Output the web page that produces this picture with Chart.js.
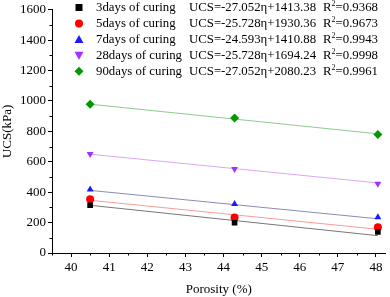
<!DOCTYPE html>
<html>
<head>
<meta charset="utf-8">
<script src="https://cdn.jsdelivr.net/npm/chart.js@4.4.0/dist/chart.umd.min.js"></script>
<style>
  body { margin: 0; background: #fff; }
  #wrap { width: 390px; height: 297px; }
</style>
</head>
<body>
<div id="wrap"><canvas id="ucs_chart"></canvas></div>
<script>
// DATA
const porosity = [40.5, 44.29, 48.05];
const ucs_3d = [314, 199, 138];
const ucs_5d = [353, 234, 169];
const ucs_7d = [418, 322, 236];
const ucs_28d = [652, 552, 456];
const ucs_90d = [979, 888, 780];

// fitted line end points
const fit_x = [40.5, 48.05];
const fit_3d = [314, 114];
const fit_5d = [347, 156];
const fit_7d = [412, 225];
const fit_28d = [650, 461];
const fit_90d = [979, 784];

const series_names = ["3days of curing", "5days of curing", "7days of curing", "28days of curing", "90days of curing"];
const equations = ["UCS=-27.052\u03b7+1413.38", "UCS=-25.728\u03b7+1930.36", "UCS=-24.593\u03b7+1410.88", "UCS=-25.728\u03b7+1694.24", "UCS=-27.052\u03b7+2080.23"];
const r_squared = ["0.9368", "0.9673", "0.9943", "0.9998", "0.9961"];

const x_ticks = [40, 41, 42, 43, 44, 45, 46, 47, 48];
const y_ticks = [0, 200, 400, 600, 800, 1000, 1200, 1400, 1600];

const marker_colors = ["#000000", "#ff0000", "#1a1aff", "#a033ff", "#009900"];
const line_colors = ["#777777", "#ff9a9a", "#8a8ab8", "#dda6f5", "#8fca8f"];
const marker_styles = ["rect", "circle", "triangle", "triangle", "rectRot"];
const marker_rot = [0, 0, 0, 180, 0];

const serif = "'Liberation Serif', 'Times New Roman', serif";

function toPoints(xs, ys) {
  return xs.map((x, i) => ({ x: x, y: ys[i] }));
}

const point_sets = [ucs_3d, ucs_5d, ucs_7d, ucs_28d, ucs_90d];
const fit_sets = [fit_3d, fit_5d, fit_7d, fit_28d, fit_90d];

let datasets = [];
fit_sets.forEach((ys, i) => {
  datasets.push({
    data: toPoints(fit_x, ys),
    showLine: true,
    borderColor: line_colors[i],
    borderWidth: 1,
    pointRadius: 0,
    order: 2,
  });
});
point_sets.forEach((ys, i) => {
  datasets.push({
    data: toPoints(porosity, ys),
    showLine: false,
    pointStyle: marker_styles[i],
    rotation: marker_rot[i],
    pointRadius: marker_styles[i] == "rectRot" ? 4.5 : 4,
    backgroundColor: marker_colors[i],
    borderColor: marker_colors[i],
    borderWidth: 0,
    order: 1,
  });
});

// MINOR TICKS + LEGEND
const extras = {
  id: "extras",
  afterDraw(chart) {
    const c = chart.ctx;
    const xs = chart.scales.x;
    const ys = chart.scales.y;
    c.save();
    c.strokeStyle = "#000";
    c.lineWidth = 1;
    c.beginPath();
    for (let v = 39.5; v <= 48.2; v += 1) {
      const px = Math.round(xs.getPixelForValue(v)) + 0.5;
      c.moveTo(px, xs.top);
      c.lineTo(px, xs.top + 2.5);
    }
    for (let v = 100; v < 1600; v += 200) {
      const py = Math.round(ys.getPixelForValue(v)) + 0.5;
      c.moveTo(ys.right, py);
      c.lineTo(ys.right - 2.5, py);
    }
    c.stroke();

    // legend
    const row_y = [7.5, 23.5, 39.5, 55.3, 71.2];
    c.textBaseline = "middle";
    c.textAlign = "left";
    for (let i = 0; i < 5; i++) {
      const y = row_y[i];
      const mx = 79;
      c.fillStyle = marker_colors[i];
      c.beginPath();
      if (marker_styles[i] == "rect") {
        c.rect(mx - 3.5, y - 3.5, 7, 7);
      } else if (marker_styles[i] == "circle") {
        c.arc(mx, y, 4, 0, Math.PI * 2);
      } else if (marker_rot[i] == 0 && marker_styles[i] == "triangle") {
        c.moveTo(mx, y - 4.5); c.lineTo(mx + 4.5, y + 3.5); c.lineTo(mx - 4.5, y + 3.5);
      } else if (marker_styles[i] == "triangle") {
        c.moveTo(mx, y + 4.5); c.lineTo(mx + 4.5, y - 3.5); c.lineTo(mx - 4.5, y - 3.5);
      } else {
        c.moveTo(mx, y - 4.5); c.lineTo(mx + 4.5, y); c.lineTo(mx, y + 4.5); c.lineTo(mx - 4.5, y);
      }
      c.closePath();
      c.fill();

      c.fillStyle = "#000";
      c.font = "12.8px " + serif;
      c.fillText(series_names[i], 96, y + 0.5);
      c.fillText(equations[i], 189, y + 0.5);
      c.fillText("R", 323, y + 0.5);
      const rw = c.measureText("R").width;
      c.font = "8px " + serif;
      c.fillText("2", 323 + rw, y - 3.5);
      const sw = c.measureText("2").width;
      c.font = "12.8px " + serif;
      c.fillText("=" + r_squared[i], 323 + rw + sw, y + 0.5);
    }
    c.restore();
  },
};

const ctx = document.getElementById("ucs_chart").getContext("2d");
new Chart(ctx, {
  type: "scatter",
  data: { datasets: datasets },
  options: {
    responsive: true,
    maintainAspectRatio: false,
    animation: false,
    layout: { padding: { top: 7, right: 1, left: 0, bottom: 0 } },
    plugins: { legend: { display: false }, tooltip: { enabled: false } },
    scales: {
      x: {
        type: "linear",
        min: 39.5,
        max: 48.25,
        afterBuildTicks: (axis) => { axis.ticks = x_ticks.map((v) => ({ value: v })); },
        afterFit: (axis) => { axis.height = 44; },
        grid: { drawOnChartArea: false, drawTicks: true, tickLength: 4, color: "#000" },
        border: { display: true, color: "#000" },
        ticks: { color: "#000", font: { family: serif, size: 13 }, padding: 3, callback: (v) => String(v) },
        title: { display: true, text: "Porosity (%)", color: "#000", font: { family: serif, size: 13 }, padding: { top: 2, bottom: 0 } },
      },
      y: {
        type: "linear",
        min: 0,
        max: 1600,
        afterBuildTicks: (axis) => { axis.ticks = y_ticks.map((v) => ({ value: v })); },
        afterFit: (axis) => { axis.width = 52; },
        grid: { drawOnChartArea: false, drawTicks: true, tickLength: 4, color: "#000" },
        border: { display: true, color: "#000" },
        ticks: { color: "#000", font: { family: serif, size: 13 }, padding: 2, callback: (v) => String(v) },
        title: { display: true, text: "UCS(kPa)", color: "#000", font: { family: serif, size: 13 }, padding: { top: 0, bottom: 0 } },
      },
    },
  },
  plugins: [extras],
});
</script>
</body>
</html>
